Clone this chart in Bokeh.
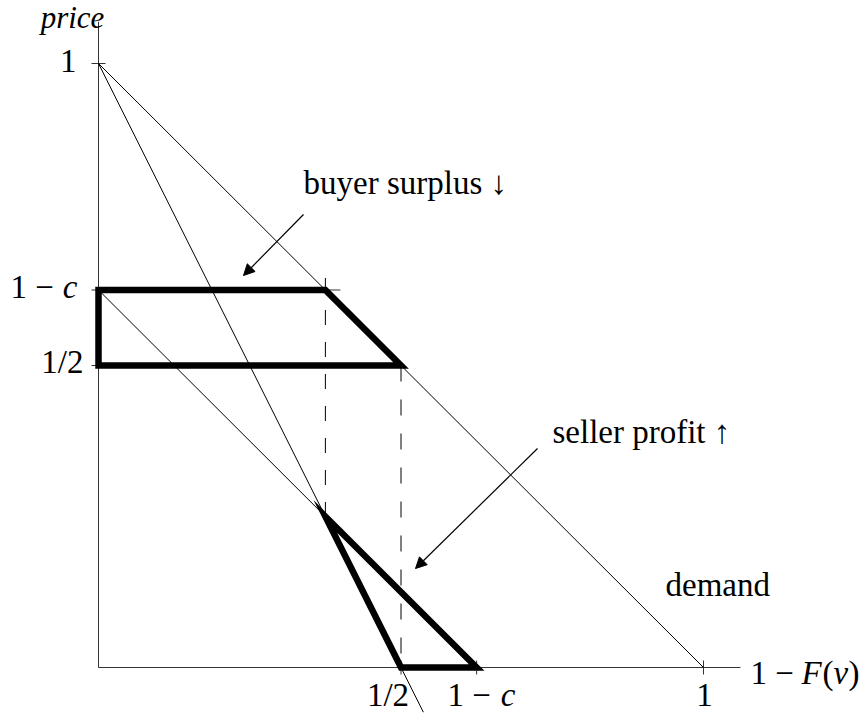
from bokeh.plotting import figure
from bokeh.models import Range1d, Arrow, NormalHead, ColumnDataSource
from bokeh.core.properties import value
from bokeh.embed import file_html
from bokeh.resources import INLINE

# ---------------- data ----------------
c = 0.375
demand_x = [0.0, 1.0]
demand_y = [1.0, 0.0]
mr_x = [0.0, 0.537]
mr_y = [1.0, -0.074]
cost_x = [0.0, 0.625]
cost_y = [0.625, 0.0]
surplus_x = [0.0, 0.375, 0.5, 0.0]
surplus_y = [0.625, 0.625, 0.5, 0.5]
profit_x = [0.375, 0.625, 0.5]
profit_y = [0.25, 0.0, 0.0]
x_ticks = [0.5, 0.625, 1.0]
y_ticks = [1.0, 0.625, 0.5]
x_tick_labels = ["1/2", "1 − c", "1"]
y_tick_labels = ["1", "1 − c", "1/2"]
axis_x_end = 1.061
axis_y_end = 1.069

# ---------------- layout helpers ----------------
W, H = 867, 715
OX, OY = 98, 667              # origin in figure pixels
SX, SY = 605.0, 604.0         # pixels per data unit
TEXT_SHIFT = 11               # compensate baseline placement of the svg backend


def dx(px):
    return (px - OX) / SX


def dy(py):
    return (OY - py) / SY


p = figure(width=W, height=H, output_backend="svg", toolbar_location=None,
           x_axis_type=None, y_axis_type=None, min_border=0,
           x_range=Range1d(-OX / SX, (W - OX) / SX),
           y_range=Range1d(-(H - OY) / SY, OY / SY))
p.outline_line_color = None
p.background_fill_color = "white"
p.border_fill_color = "white"

AX = "#333333"
# axes
p.line([0, axis_x_end], [0, 0], line_color=AX, line_width=1)
p.line([0, 0], [0, axis_y_end], line_color=AX, line_width=1)

# ticks
tx = 7 / SX
ty = 7 / SY
p.segment(x0=[-tx] * len(y_ticks), x1=[tx] * len(y_ticks), y0=y_ticks, y1=y_ticks,
          line_color=AX, line_width=1)
p.segment(x0=x_ticks, x1=x_ticks, y0=[-ty] * len(x_ticks), y1=[ty] * len(x_ticks),
          line_color=AX, line_width=1)
# cross tick at (c, 1-c)
p.segment(x0=[c - 15 / SX], x1=[c + 15 / SX], y0=[1 - c], y1=[1 - c],
          line_color=AX, line_width=1)

# thin lines
p.line(demand_x, demand_y, line_color="black", line_width=1)
p.line(mr_x, mr_y, line_color="black", line_width=1)
p.line(cost_x, cost_y, line_color="black", line_width=1)

# dashed verticals
p.line([c, c], [1 - c + 12 / SY, profit_y[0]], line_color="black", line_width=1,
       line_dash="15 17")
p.line([0.5, 0.5], [0.5, 0.0], line_color="black", line_width=1, line_dash="16 18")

# thick regions
p.patch(surplus_x, surplus_y, fill_color=None, line_color="black", line_width=6.5,
        line_join="miter")
p.patch(profit_x, profit_y, fill_color=None, line_color="black", line_width=6.5,
        line_join="miter")

# arrows
p.add_layout(Arrow(end=NormalHead(size=11, fill_color="black", line_color="black", line_width=1),
                   x_start=dx(303), y_start=dy(214), x_end=dx(243), y_end=dy(275),
                   line_color="black", line_width=1.2))
p.add_layout(Arrow(end=NormalHead(size=11, fill_color="black", line_color="black", line_width=1),
                   x_start=dx(537), y_start=dy(448), x_end=dx(415), y_end=dy(568),
                   line_color="black", line_width=1.2))

# texts: (text, x_px, baseline_px, style, align, size)
pieces = [
    ("price", 72, 28, "italic", "center", "31px"),
    (y_tick_labels[0], 76, 71, "normal", "right", "33px"),
    ("1 − ", 10, 297, "normal", "left", "33px"),
    ("c", 77, 297, "italic", "right", "33px"),
    (y_tick_labels[2], 83, 372, "normal", "right", "33px"),
    (x_tick_labels[0], 387.5, 705, "normal", "center", "33px"),
    ("1 − ", 447, 705, "normal", "left", "33px"),
    ("c", 515, 705, "italic", "right", "33px"),
    (x_tick_labels[2], 704, 705, "normal", "center", "33px"),
    ("1 − ", 750, 683, "normal", "left", "33px"),
    ("F", 801, 683, "italic", "left", "33px"),
    ("(", 822, 683, "normal", "left", "33px"),
    ("v", 833, 683, "italic", "left", "33px"),
    (")", 848, 683, "normal", "left", "33px"),
    ("buyer surplus ↓", 303, 193, "normal", "left", "33px"),
    ("seller profit ↑", 552, 442, "normal", "left", "33px"),
    ("demand", 665, 595, "normal", "left", "33px"),
]
groups = {}
for q in pieces:
    groups.setdefault((q[3], q[4], q[5]), []).append(q)
for (style, align, size), sel in groups.items():
    src = ColumnDataSource(dict(x=[dx(q[1]) for q in sel],
                                y=[dy(q[2] - TEXT_SHIFT) for q in sel],
                                t=[q[0] for q in sel]))
    p.text(x="x", y="y", text="t", source=src, text_font=value("Liberation Serif"),
           text_font_size=size, text_font_style=style, text_align=align,
           text_baseline="alphabetic", text_color="black")

open("out.html", "w").write(file_html(p, INLINE))
